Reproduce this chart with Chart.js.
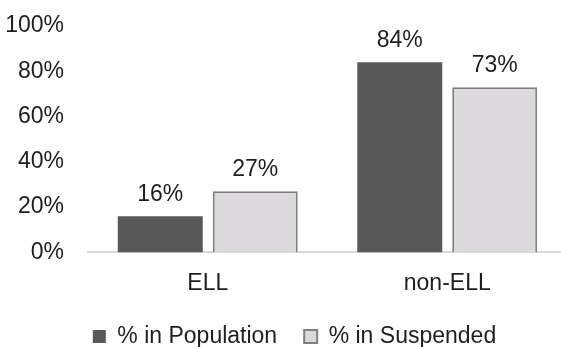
<!DOCTYPE html>
<html>
<head>
<meta charset="utf-8">
<script src="https://cdn.jsdelivr.net/npm/chart.js@4.4.1/dist/chart.umd.min.js"></script>
<style>
  html, body { margin: 0; padding: 0; background: #fff; overflow: hidden; }
  #wrap { width: 567px; height: 347px; }
</style>
</head>
<body>
<div id="wrap"><canvas id="bars"></canvas></div>
<script>
// groups and the two shares per group
var groups = ['ELL', 'non-ELL'];
var populationPct = [16, 84];
var suspendedPct = [27, 73];
var yTicks = [0, 20, 40, 60, 80, 100];

var textColor = '#1e1e1e';
var fontFamily = '"Liberation Sans", Arial, sans-serif';

// writes the value above each bar
var barValues = {
  id: 'barValues',
  afterDatasetsDraw: function(chart) {
    var ctx = chart.ctx;
    ctx.save();
    ctx.font = '23px ' + fontFamily;
    ctx.fillStyle = textColor;
    ctx.textAlign = 'center';
    ctx.textBaseline = 'alphabetic';
    chart.data.datasets.forEach(function(ds, i) {
      chart.getDatasetMeta(i).data.forEach(function(bar, j) {
        ctx.fillText(ds.data[j] + '%', bar.x, bar.y - 15);
      });
    });
    ctx.restore();
  }
};

// tighter legend box, then nudge it right/up a little
var legendNudge = {
  id: 'legendNudge',
  beforeLayout: function(chart) {
    var lg = chart.legend;
    if (lg && !lg._short) {
      var fit = lg.fit;
      lg.fit = function() {
        fit.call(this);
        this.height -= 27;
      };
      lg._short = true;
    }
  },
  afterLayout: function(chart) {
    var lg = chart.legend;
    if (!lg) return;
    lg.left += 11; lg.right += 11;
    lg.top -= 16;
    lg.bottom = lg.top + 80;
  }
};

new Chart(document.getElementById('bars'), {
  type: 'bar',
  data: {
    labels: groups,
    datasets: [{
      label: '% in Population',
      data: populationPct,
      backgroundColor: '#595959',
      borderColor: '#595959',
      borderWidth: 0,
      categoryPercentage: 0.793,
      barPercentage: 0.895
    }, {
      label: '% in Suspended',
      data: suspendedPct,
      backgroundColor: '#dbd9db',
      borderColor: '#808080',
      borderWidth: 2,
      categoryPercentage: 0.793,
      barPercentage: 0.895
    }]
  },
  options: {
    responsive: true,
    maintainAspectRatio: false,
    animation: false,
    events: [],
    layout: { padding: { left: 0, right: 0, top: 26, bottom: 0 } },
    scales: {
      x: {
        grid: { display: false, drawTicks: false },
        border: { color: '#d9d9d9', width: 2 },
        ticks: { color: textColor, font: { family: fontFamily, size: 23 }, padding: 17 }
      },
      y: {
        min: 0,
        max: 100,
        afterFit: function(scale) {
          scale.width = 88;
          scale.paddingTop = 0;
          scale.paddingBottom = 0;
        },
        afterBuildTicks: function(scale) {
          scale.ticks = yTicks.map(function(v) { return { value: v }; });
        },
        grid: { display: false, drawTicks: false },
        border: { display: false },
        ticks: {
          color: textColor,
          font: { family: fontFamily, size: 23 },
          padding: 24,
          callback: function(v) { return v + '%'; }
        }
      }
    },
    plugins: {
      tooltip: { enabled: false },
      legend: {
        position: 'bottom',
        labels: {
          color: textColor,
          font: { family: fontFamily, size: 23 },
          boxWidth: 13,
          boxHeight: 13,
          padding: 27
        }
      }
    }
  },
  plugins: [barValues, legendNudge]
});
</script>
</body>
</html>
